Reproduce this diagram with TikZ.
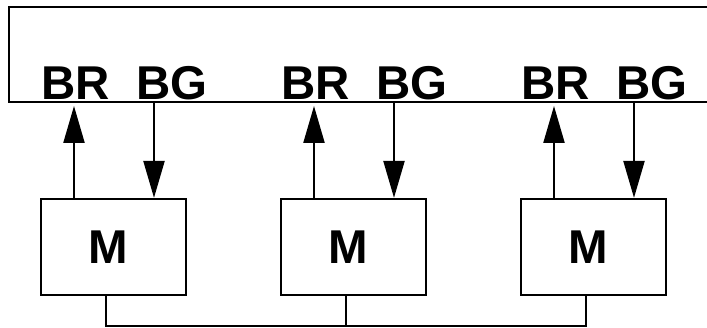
\documentclass[tikz,border=0pt]{standalone}
\usepackage{fontspec}
\setmainfont{Liberation Sans}
\usetikzlibrary{arrows.meta}
\tikzset{
  wire/.style={line width=0.045cm},
  sig/.style={wire, -{Triangle[length=0.74cm, width=0.42cm]}},
  mbox/.style={wire, draw, minimum width=2.9cm, minimum height=1.92cm, inner sep=0pt},
  lbl/.style={font=\fontsize{27}{31}\selectfont\bfseries, anchor=base, inner sep=0pt}
}

\begin{document}
\begin{tikzpicture}

  % ---- Frame ---------------------------------------------------------------
  \useasboundingbox (0,0) rectangle (14.14,6.56);

  % ---- Top block, open on the right ----------------------------------------
  \draw[wire] (14.2,6.42) -- (0.18,6.42) -- (0.18,4.52) -- (14.2,4.52);

  % ---- Port points on the lower edge of the block --------------------------
  \coordinate (r1) at (1.48,4.44);
  \coordinate (g1) at (3.08,4.52);
  \coordinate (r2) at (6.28,4.44);
  \coordinate (g2) at (7.88,4.52);
  \coordinate (r3) at (11.08,4.44);
  \coordinate (g3) at (12.68,4.52);

  % ---- Port labels ---------------------------------------------------------
  \node[lbl] (lr1) at (1.52,4.57)  {BR};
  \node[lbl] (lg1) at (3.44,4.57)  {BG};
  \node[lbl] (lr2) at (6.32,4.57)  {BR};
  \node[lbl] (lg2) at (8.24,4.57)  {BG};
  \node[lbl] (lr3) at (11.12,4.57) {BR};
  \node[lbl] (lg3) at (13.04,4.57) {BG};

  % ---- Modules (letter sits a little left of centre) -----------------------
  \node[mbox, lbl, anchor=center] (m1) at (2.27,1.62)  {\hspace*{-0.22cm}M};
  \node[mbox, lbl, anchor=center] (m2) at (7.07,1.62)  {\hspace*{-0.22cm}M};
  \node[mbox, lbl, anchor=center] (m3) at (11.87,1.62) {\hspace*{-0.22cm}M};

  % ---- Signals between modules and block -----------------------------------
  \draw[sig] (m1.north -| r1) -- (r1);
  \draw[sig] (g1) -- (m1.north -| g1);
  \draw[sig] (m2.north -| r2) -- (r2);
  \draw[sig] (g2) -- (m2.north -| g2);
  \draw[sig] (m3.north -| r3) -- (r3);
  \draw[sig] (g3) -- (m3.north -| g3);

  % ---- Common line under the modules ---------------------------------------
  \draw[wire] ([xshift=-0.15cm]m1.south) -- ++(0,-0.6) -| ([xshift=-0.15cm]m3.south);
  \draw[wire] ([xshift=-0.15cm]m2.south) -- ++(0,-0.6);

\end{tikzpicture}
\end{document}
